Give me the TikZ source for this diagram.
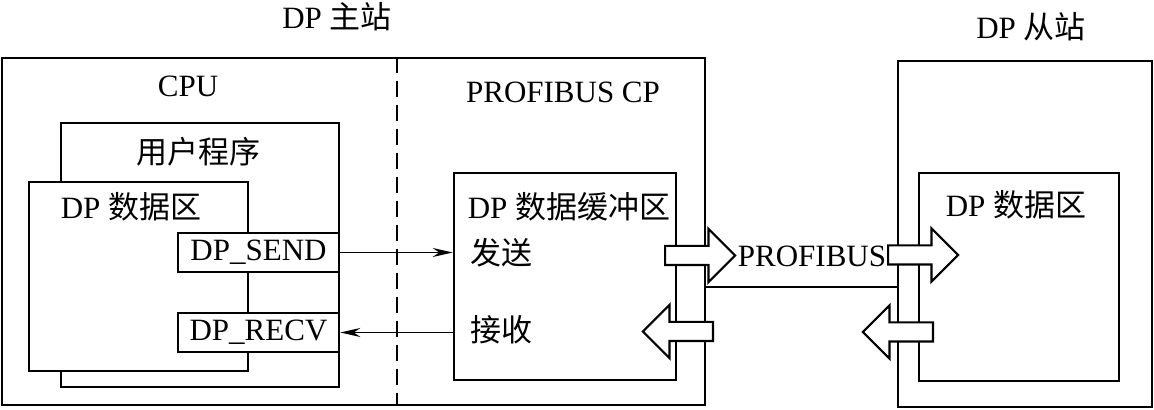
\documentclass[tikz,border=0pt]{standalone}
\usepackage{fontspec}
\setmainfont{Liberation Serif}
\newfontfamily\cjk{Noto Sans CJK SC}
\usetikzlibrary{arrows.meta,shapes.arrows}

\tikzset{
  box/.style={draw, line width=1.3pt, fill=white, inner sep=0pt},
  sig/.style={line width=0.8pt, -{Stealth[length=10pt,width=4.5pt]}},
  blkarrow/.style={draw, line width=1.1pt, fill=white, single arrow,
    single arrow head extend=8.5pt, minimum height=35pt,
    inner xsep=0pt, inner ysep=4.25pt, anchor=tail},
}

\begin{document}
\begin{tikzpicture}[x=0.5pt, y=-0.5pt, font=\fontsize{15.5}{18}\selectfont]
  \useasboundingbox (0,0) rectangle (1154,410);

  % DP master station
  \node[box, minimum width=351.5pt, minimum height=173.5pt] (master) at (353.5,231.5) {};
  \node (mastertitle) at (337,17) {DP {\cjk 主站}};
  \coordinate (div) at (397,0); % CPU | CP divider
  \draw[line width=0.8pt, dash pattern=on 8pt off 4pt] (div |- master.north) -- (div |- master.south);

  % CPU side
  \node (cpu) at (188,86) {CPU};
  \node[box, minimum width=139pt, minimum height=132pt] (userprog) at (200,255) {};
  \node (userlbl) at (198,152) {\cjk 用户程序};
  \node[box, minimum width=109.5pt, minimum height=94.5pt] (cpudata) at (138.5,276.5) {};
  \node (cpudatalbl) at (131,207) {DP {\cjk 数据区}};
  \node[box, minimum width=80.5pt, minimum height=19.5pt] (send) at (258.5,252.5) {DP\_SEND};
  \node[box, minimum width=80.5pt, minimum height=19.5pt] (recv) at (258.5,332.5) {DP\_RECV};

  % PROFIBUS CP side
  \node (cp) at (563,92) {PROFIBUS CP};
  \node[box, minimum width=111pt, minimum height=103.5pt] (buf) at (565,276.5) {};
  \node (buflbl) at (569,207) {DP {\cjk 数据缓冲区}};
  \node (sendlbl) at (501,253) {\cjk 发送};
  \node (recvlbl) at (501,330) {\cjk 接收};

  % SFC calls to the buffer
  \draw[sig] (send.east) -- (send.east -| buf.west);
  \draw[sig] (recv.east -| buf.west) -- (recv.east);

  % DP slave station
  \node[box, minimum width=127pt, minimum height=173pt] (slave) at (1025,234) {};
  \node (slavetitle) at (1031,27) {DP {\cjk 从站}};
  \node[box, minimum width=100pt, minimum height=104pt] (slavedata) at (1019,277) {};
  \node (slavedatalbl) at (1016,205) {DP {\cjk 数据区}};

  % bus
  \coordinate (bus) at (800,287);
  \draw[line width=0.8pt] (bus -| master.east) -- (bus -| slave.west);
  \node (buslbl) at (812,256) {PROFIBUS};

  % data flow
  \node[blkarrow] (cpout) at (664,255.5) {};
  \node[blkarrow, shape border rotate=180] (cpin) at (714,331.5) {};
  \node[blkarrow] (slavein) at (887,255) {};
  \node[blkarrow, shape border rotate=180] (slaveout) at (934,332) {};
\end{tikzpicture}
\end{document}
